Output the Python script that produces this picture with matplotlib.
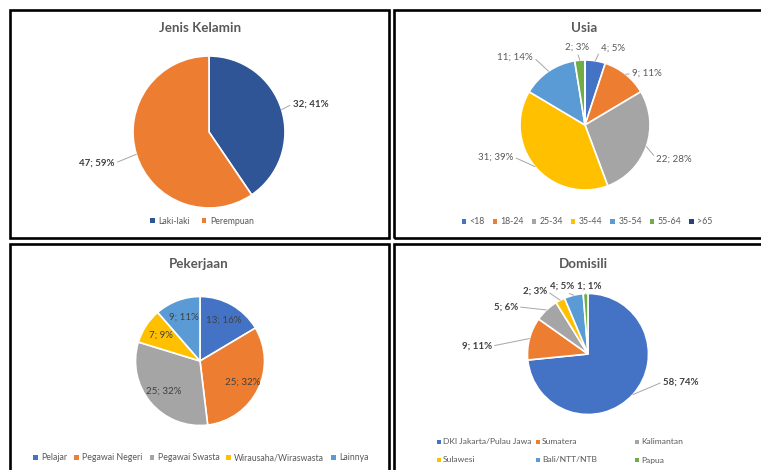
import numpy as np
import matplotlib
matplotlib.use('Agg')
import matplotlib.pyplot as plt
from matplotlib.patches import Rectangle, Patch

plt.rcParams['font.family'] = ['Lato', 'DejaVu Sans']

W, H = 761, 470

# data
jk_labels = ['Laki-laki', 'Perempuan']
jk_values = [32, 47]
jk_pct = [41, 59]

usia_labels = ['<18', '18-24', '25-34', '35-44', '35-54', '55-64', '>65']
usia_values = [4, 9, 22, 31, 11, 2, 0]
usia_pct = [5, 11, 28, 39, 14, 3, 0]

kerja_labels = ['Pelajar', 'Pegawai Negeri', 'Pegawai Swasta', 'Wirausaha/Wiraswasta', 'Lainnya']
kerja_values = [13, 25, 25, 7, 9]
kerja_pct = [16, 32, 32, 9, 11]

dom_labels = ['DKI Jakarta/Pulau Jawa', 'Sumatera', 'Kalimantan', 'Sulawesi', 'Bali/NTT/NTB', 'Papua']
dom_values = [58, 9, 5, 2, 4, 1]
dom_pct = [74, 11, 6, 3, 5, 1]

office = ['#4472C4', '#ED7D31', '#A5A5A5', '#FFC000', '#5B9BD5', '#70AD47', '#264478']
jk_colors = ['#2F5597', '#ED7D31']

# label placement (in pie radius units) for the outside labels
jk_lbl = [(1.10, 0.37, 'left'), (-1.24, -0.41, 'right')]
usia_lbl = [(0.25, 1.18, 'left'), (0.72, 0.79, 'left'), (1.10, -0.52, 'left'),
            (-1.10, -0.49, 'right'), (-0.80, 1.05, 'right'), (-0.12, 1.19, 'center'), None]
dom_lbl = [(1.24, -0.46, 'left'), (-1.59, 0.13, 'right'), (-1.16, 0.78, 'right'),
           (-0.68, 1.04, 'right'), (-0.43, 1.12, 'center'), (0.02, 1.12, 'center')]

title_c = '#595959'
text_c = '#404040'
line_c = '#A6A6A6'
leg_fs = 6.3

fig = plt.figure(figsize=(W / 100, H / 100), dpi=100)


def fx(x):
    return x / W


def fy(y):
    return 1 - y / H


def frame(x0, y0, x1, y1):
    fig.add_artist(Rectangle((fx(x0), fy(y1)), fx(x1) - fx(x0), fy(y0) - fy(y1),
                             transform=fig.transFigure, fill=False, ec='black', lw=1.9))


def pie_at(cx, cy, r, values, colors):
    ax = fig.add_axes([fx(cx - r), fy(cy + r), 2 * r / W, 2 * r / H])
    wedges, _ = ax.pie(values, colors=colors, startangle=90, counterclock=False,
                       wedgeprops=dict(edgecolor='white', linewidth=1.2))
    ax.set_xlim(-1, 1)
    ax.set_ylim(-1, 1)
    ax.axis('off')
    return ax, wedges


def mid(w):
    return np.deg2rad((w.theta1 + w.theta2) / 2)


def outside_labels(ax, wedges, values, pct, pos, weight, color):
    for w, v, p, lp in zip(wedges, values, pct, pos):
        if lp is None:
            continue
        lx, ly, ha = lp
        th = mid(w)
        rel = {'left': (0, 0.5), 'right': (1, 0.5), 'center': (0.5, 0)}[ha]
        ax.annotate(f'{v}; {p}%', xy=(np.cos(th), np.sin(th)), xytext=(lx, ly),
                    ha=ha, va='center', fontsize=7, fontweight=weight, color=color,
                    annotation_clip=False,
                    arrowprops=dict(arrowstyle='-', color=line_c, lw=0.7, relpos=rel,
                                    shrinkA=0, shrinkB=0))


def legend_row(labels, colors, x, y, ncol, spacing):
    handles = [Patch(fc=c, ec='none') for c in colors]
    fig.legend(handles, labels, loc='center', bbox_to_anchor=(fx(x), fy(y)), ncol=ncol,
               frameon=False, fontsize=leg_fs, labelcolor=title_c, handlelength=0.5,
               handleheight=0.5, handletextpad=0.4, columnspacing=spacing, borderpad=0)


# panel frames
frame(10, 10, 388.5, 237.5)
frame(393.5, 10, 766, 237.5)
frame(10, 244, 388.5, 476)
frame(393.5, 244, 766, 476)

# Jenis Kelamin
fig.text(fx(200), fy(28), 'Jenis Kelamin', ha='center', va='center', fontsize=9.6,
         fontweight='bold', color=title_c)
ax1, w1 = pie_at(209, 132, 76, jk_values, jk_colors)
outside_labels(ax1, w1, jk_values, jk_pct, jk_lbl, 'bold', text_c)
legend_row(jk_labels, jk_colors, 202, 221, 2, 1.4)

# Usia
fig.text(fx(584), fy(28), 'Usia', ha='center', va='center', fontsize=9.6,
         fontweight='bold', color=title_c)
ax2, w2 = pie_at(585, 125, 65, usia_values, office[:7])
outside_labels(ax2, w2, usia_values, usia_pct, usia_lbl, 'normal', title_c)
legend_row(usia_labels, office[:7], 587, 222, 7, 0.9)

# Pekerjaan
fig.text(fx(199), fy(264), 'Pekerjaan', ha='center', va='center', fontsize=9.6,
         fontweight='bold', color=title_c)
ax3, w3 = pie_at(200, 361, 64.5, kerja_values, office[:5])
for w, v, p in zip(w3, kerja_values, kerja_pct):
    th = mid(w)
    ax3.text(0.73 * np.cos(th), 0.73 * np.sin(th), f'{v}; {p}%', ha='center', va='center',
             fontsize=7, color=text_c)
legend_row(kerja_labels, office[:5], 201, 458, 5, 0.8)

# Domisili
fig.text(fx(583), fy(264), 'Domisili', ha='center', va='center', fontsize=9.6,
         fontweight='bold', color=title_c)
ax4, w4 = pie_at(588, 354, 60.5, dom_values, office[:6])
outside_labels(ax4, w4, dom_values, dom_pct, dom_lbl, 'bold', text_c)
# legend in a fixed 3-column grid, like the original
col_x = [439, 538, 637]
row_y = [442, 460]
for i, (lab, c) in enumerate(zip(dom_labels, office[:6])):
    x = col_x[i % 3]
    y = row_y[i // 3]
    fig.patches.append(Rectangle((fx(x - 2), fy(y + 2)), 4 / W, 4 / H, transform=fig.transFigure,
                                 fc=c, ec='none'))
    fig.text(fx(x + 4), fy(y), lab, ha='left', va='center', fontsize=6.1, color=title_c)

fig.savefig('out.png', dpi=100, facecolor='white')
